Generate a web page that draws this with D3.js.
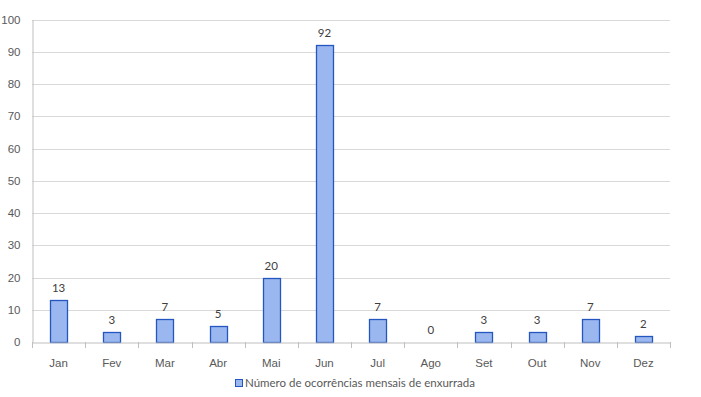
<!DOCTYPE html>
<html><head><meta charset="utf-8">
<script src="https://cdn.jsdelivr.net/npm/d3@7"></script>
<style>body{margin:0;background:#fff;}svg{display:block;font-family:Lato,"Open Sans","Liberation Sans",sans-serif;}</style>
</head><body><svg id="c" width="701" height="397"></svg>
<script>
const months = ["Jan","Fev","Mar","Abr","Mai","Jun","Jul","Ago","Set","Out","Nov","Dez"];
const values = [13,3,7,5,20,92,7,0,3,3,7,2];
const yTicks = [0,10,20,30,40,50,60,70,80,90,100];
const seriesName = "Número de ocorrências mensais de enxurrada";

const svg = d3.select("#c");
const L = 32, R = 670, T = 19.5, B = 342;
const FS = 11.5;
const x = d3.scaleBand().domain(months).range([L, R]).paddingInner(0.68).paddingOuter(0.34);
const y = d3.scaleLinear().domain([0,100]).range([B, T]);

// gridlines
svg.append("g").selectAll("line").data(yTicks.filter(d=>d>0)).join("line")
  .attr("x1", L).attr("x2", R).attr("y1", d=>Math.round(y(d))+0.5).attr("y2", d=>Math.round(y(d))+0.5)
  .attr("stroke", "#d9d9d9").attr("stroke-width", 1);

// y axis
const ya = svg.append("g").attr("transform", `translate(${L+0.5},0)`)
  .call(d3.axisLeft(y).tickValues(yTicks).tickSize(0).tickPadding(12));
ya.select(".domain").attr("stroke", "#bfbfbf");
ya.selectAll("text").attr("fill", "#595959").attr("font-size", FS);

// bars
svg.append("g").selectAll("rect").data(values).join("rect")
  .attr("x", (d,i)=>Math.round(x(months[i]))+0.5)
  .attr("y", d=>Math.round(y(d))+0.5)
  .attr("width", Math.round(x.bandwidth()))
  .attr("height", d=>Math.round(B)-Math.round(y(d)))
  .attr("fill", "#9bb7ef").attr("stroke", "#2456c0").attr("stroke-width", 1.3)
  .attr("display", d=>d>0?null:"none");

// labels
svg.append("g").selectAll("text").data(values).join("text")
  .attr("x", (d,i)=>x(months[i])+x.bandwidth()/2)
  .attr("y", d=>y(d)-8)
  .attr("text-anchor","middle").attr("font-size", FS).attr("fill", "#404040")
  .text(d=>d);

// x axis
const xb = d3.scaleBand().domain(months).range([L, R]);
const xa = svg.append("g").attr("transform", `translate(0,${Math.round(B)+0.5})`)
  .call(d3.axisBottom(xb).tickSize(0).tickPadding(16));
xa.select(".domain").attr("stroke", "#bfbfbf");
xa.selectAll("text").attr("fill", "#595959").attr("font-size", FS);
// boundary ticks
svg.append("g").selectAll("line").data(d3.range(13)).join("line")
  .attr("x1", i=>Math.round(L + i*xb.step())+0.5).attr("x2", i=>Math.round(L + i*xb.step())+0.5)
  .attr("y1", Math.round(B)).attr("y2", Math.round(B)+6)
  .attr("stroke", "#bfbfbf");

// legend
const lg = svg.append("g").attr("transform", "translate(235,379)");
lg.append("rect").attr("x",0.5).attr("y",0.5).attr("width",7).attr("height",7)
  .attr("fill","#9bb7ef").attr("stroke","#2456c0");
lg.append("text").attr("x",10).attr("y",8).attr("font-size",FS).attr("fill","#595959").text(seriesName);
</script></body></html>
